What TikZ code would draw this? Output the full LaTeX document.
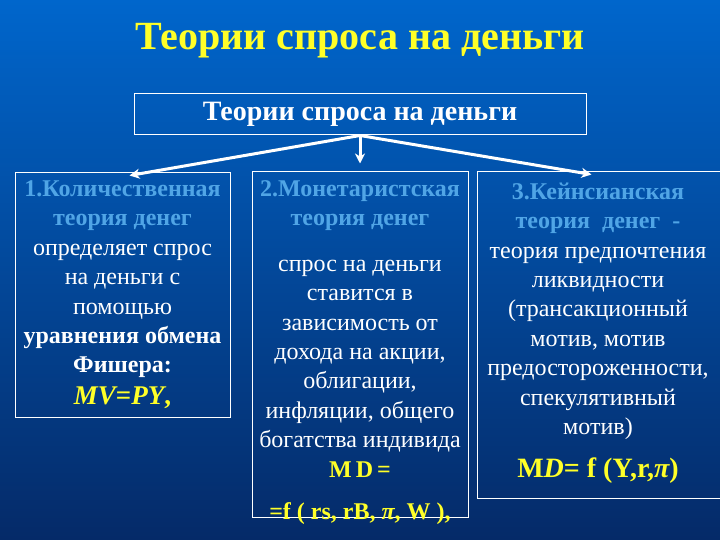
\documentclass[tikz,border=0pt]{standalone}
\usepackage{fontspec}
\setmainfont{Liberation Serif}
\newfontfamily\slidefont{Liberation Serif}
\usepackage{xcolor}
\usepackage{tikz}
\usetikzlibrary{
  positioning,
  arrows.meta
}
\definecolor{slidetop}{RGB}{0,102,204}
\definecolor{slidemid}{RGB}{10,72,160}
\definecolor{slidebot}{RGB}{5,42,104}
\definecolor{headblue}{RGB}{80,165,230}
\definecolor{formula}{RGB}{255,255,40}

\begin{document}
\begin{tikzpicture}[x=1pt, y=-1pt,
  frame/.style={draw=white, line width=1pt, inner sep=0pt},
  boxtext/.style={align=center, inner sep=0pt, text=white,
    font=\slidefont\fontsize{24}{29.4}\selectfont},
  link/.style={draw=white, line width=3pt,
    -{Stealth[length=10pt, width=10pt, inset=3pt]}}]

  % фон слайда
  \useasboundingbox (0,0) rectangle (720,540);
  \shade[top color=slidetop, middle color=slidemid, bottom color=slidebot]
    (0,0) rectangle (720,540);

  % заголовок
  \node[text=formula, font=\slidefont\fontsize{40}{44}\selectfont\bfseries] (title)
    at (360,41) {Теории спроса на деньги};

  % верхний блок
  \node[frame, minimum width=452pt, minimum height=41pt, text=white,
    font=\slidefont\fontsize{28}{30}\selectfont\bfseries] (top)
    at (360,114.5) {Теории спроса на деньги};

  % три блока теорий
  \node[frame, minimum width=215pt, minimum height=244pt] (box1) at (122.5,295) {};
  \node[frame, minimum width=216pt, minimum height=345pt] (box2) at (360,344.5) {};
  \node[frame, minimum width=247pt, minimum height=326pt] (box3) at (600.5,335) {};

  % стрелки
  \draw[link] (top.south) -- ([xshift=7pt, yshift=-3pt]box1.north);
  \draw[link, shorten >=8pt] (top.south) -- (box2.north);
  \draw[link] (top.south) -- ([xshift=-9pt, yshift=-3pt]box3.north);

  % 1. количественная теория
  \node[boxtext, anchor=north] (text1) at (122.5,180.5) {%
    {\color{headblue}\bfseries 1.Количественная}\\
    {\color{headblue}\bfseries теория денег}\\
    определяет спрос\\
    на деньги с\\
    помощью\\
    {\bfseries уравнения обмена}\\
    {\bfseries Фишера:}\\[2pt]
    {\color{formula}\fontsize{27}{29}\selectfont\bfseries\itshape MV\upshape=\itshape PY\upshape,}};

  % 2. монетаристская теория
  \node[boxtext, anchor=north] (text2) at (360,180.5) {%
    {\color{headblue}\bfseries 2.Монетаристская}\\
    {\color{headblue}\bfseries теория денег}\\[16pt]
    спрос на деньги\\
    ставится в\\
    зависимость от\\
    дохода на акции,\\
    облигации,\\
    инфляции, общего\\
    богатства индивида\\
    {\color{formula}\bfseries M\,D\,=}\\[13pt]
    {\color{formula}\bfseries =f ( rs, rB, \itshape π\upshape, W ),}};

  % 3. кейнсианская теория
  \node[boxtext, anchor=north] (text3) at (598,182.5) {%
    {\color{headblue}\bfseries 3.Кейнсианская}\\
    {\color{headblue}\bfseries теория\ \ денег\ \ -}\\
    теория предпочтения\\
    ликвидности\\
    (трансакционный\\
    мотив, мотив\\
    предосторожен\-ности,\\
    спекулятивный\\
    мотив)\\[14pt]
    {\color{formula}\fontsize{28}{29}\selectfont\bfseries M\itshape D\upshape= f (Y,r,\itshape π\upshape)}};
\end{tikzpicture}
\end{document}
